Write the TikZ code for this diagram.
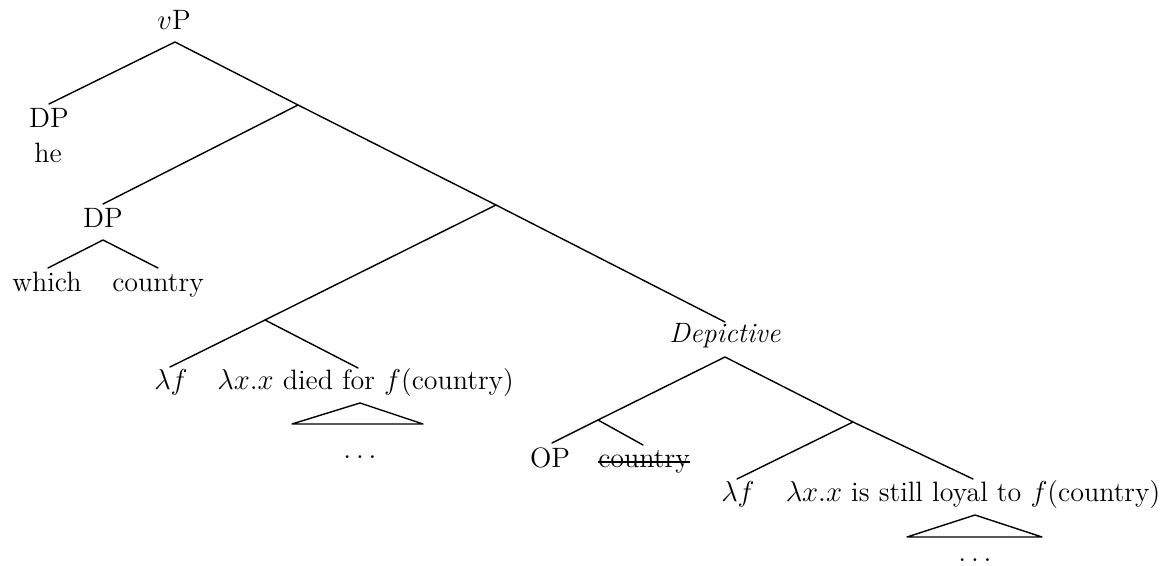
\documentclass[tikz,border=0pt]{standalone}
\begin{document}
\begin{tikzpicture}[x=0.5pt,y=-0.5pt,
  lbl/.style={inner sep=0pt,anchor=base,font=\fontsize{14}{16}\selectfont},
  edge/.style={line width=0.7pt,line cap=round,line join=round}]
\useasboundingbox (0,0) rectangle (1162,566);
% labels
\node[lbl] (vP) at (174,30) {$v$P};
\node[lbl] (DPa) at (49,128) {DP};
\node[lbl] (he) at (48,163) {he};
\node[lbl] (DPb) at (103,228) {DP};
\node[lbl] (which) at (47,292) {which};
\node[lbl] (cty) at (158,292) {country};
\node[lbl] (lfa) at (171,390) {$\lambda f$};
\node[lbl,anchor=base west] (died) at (217,390) {$\lambda x.x$ died for $f$(country)};
\node[lbl] (dep) at (725,343) {\textit{Depictive}};
\node[lbl] (OP) at (550,468) {OP};
\node[lbl] (ctyb) at (644,468) {country};
\node[lbl] (lfb) at (738,502) {$\lambda f$};
\node[lbl] (loyal) at (973,502) {$\lambda x.x$ is still loyal to $f$(country)};
\node[lbl,anchor=center] (dotsa) at (360,457) {$\dots$};
\node[lbl,anchor=center] (dotsb) at (975,560) {$\dots$};
% strike-through of the deleted copy
\draw[line width=0.7pt] ([yshift=3pt]ctyb.base west) -- ([yshift=3pt]ctyb.base east);
% junctions
\coordinate (vPj) at (175,42);
\coordinate (j1) at (298,105);
\coordinate (j2) at (496,205);
\coordinate (j3) at (265,320);
\coordinate (dpj) at (103,240);
\coordinate (depj) at (725,357);
\coordinate (j4) at (598,420);
\coordinate (j5) at (853,422);
% line ends
\coordinate (DPa-t) at (49,104);
\coordinate (DPb-t) at (103,204);
\coordinate (which-t) at (48,268);
\coordinate (cty-t) at (158,268);
\coordinate (lfa-t) at (170,367);
\coordinate (died-t) at (358,368);
\coordinate (dep-t) at (725,322);
\coordinate (OP-t) at (552,443);
\coordinate (ctyb-t) at (643,445);
\coordinate (lfb-t) at (737,479);
\coordinate (loyal-t) at (973,479);
% triangles
\coordinate (ta) at (360,403);
\coordinate (tal) at (292,424);
\coordinate (tar) at (423,424);
\coordinate (tb) at (975,515);
\coordinate (tbl) at (907,537);
\coordinate (tbr) at (1042,537);
% edges
\draw[edge] (DPa-t) -- (vPj) -- (j1) -- (j2) -- (dep-t);
\draw[edge] (j1) -- (DPb-t);
\draw[edge] (which-t) -- (dpj) -- (cty-t);
\draw[edge] (j2) -- (j3) -- (lfa-t);
\draw[edge] (j3) -- (died-t);
\draw[edge] (tal) -- (ta) -- (tar) -- cycle;
\draw[edge] (OP-t) -- (j4) -- (depj) -- (j5) -- (loyal-t);
\draw[edge] (j4) -- (ctyb-t);
\draw[edge] (j5) -- (lfb-t);
\draw[edge] (tbl) -- (tb) -- (tbr) -- cycle;
\end{tikzpicture}
\end{document}
